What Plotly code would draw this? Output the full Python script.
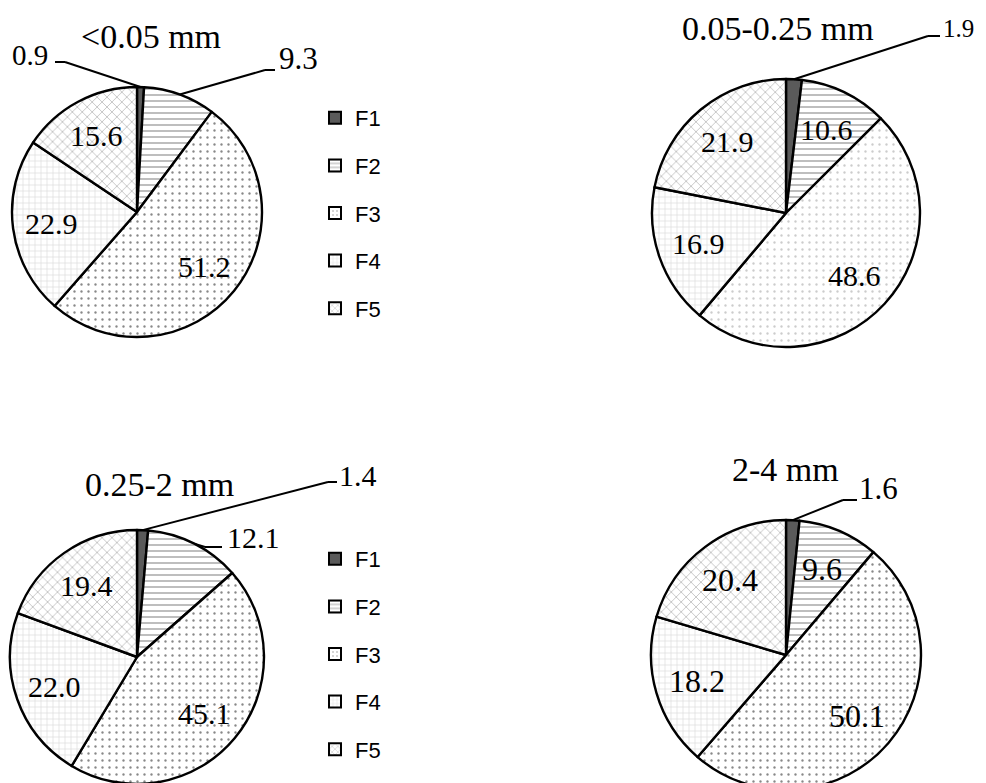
import math
import plotly.graph_objects as go

# page renders the figure with an 8px body margin; work in screen pixels
OFF = 8
FW, FH = 970, 800

# ---------------- data ----------------
fractions = ["F1", "F2", "F3", "F4", "F5"]
titles = ["<0.05 mm", "0.05-0.25 mm", "0.25-2 mm", "2-4 mm"]
v_lt005 = [0.9, 9.3, 51.2, 22.9, 15.6]
v_005_025 = [1.9, 10.6, 48.6, 16.9, 21.9]
v_025_2 = [1.4, 12.1, 45.1, 22.0, 19.4]
v_2_4 = [1.6, 9.6, 50.1, 18.2, 20.4]
series = [v_lt005, v_005_025, v_025_2, v_2_4]

# ---------------- layout / style ----------------
# screen-pixel centre and radius of each pie
geom = [(137, 212, 125), (786, 213, 134), (137, 657, 127), (786, 655, 135)]
title_pos = [(151, 36), (778, 28), (159, 484), (785, 469)]
label_size = [30, 30, 30, 32]

# callouts: pie index -> {slice index: (elbow_x, elbow_y, end_x, text_x, text_y, anchor, size)}
callouts = {
    0: {0: (65, 62, 55, 50, 55, "right", 29), 1: (265, 70, 275, 277, 58, "left", 31)},
    1: {0: (928, 36, 940, 941, 28, "left", 25)},
    2: {0: (328, 482, 337, 337, 475, "left", 30), 1: (205, 547, 222, 225, 537, "left", 30)},
    3: {0: (843, 500, 857, 857, 488, "left", 31)},
}

fill = {
    "F1": dict(color="#5a5a5a"),
    "F2": dict(color="white", pattern=dict(shape="-", fgcolor="#222", bgcolor="white", size=6, solidity=0.2)),
    "F3": dict(color="white", pattern=dict(shape=".", fgcolor="#111", bgcolor="white", size=7, solidity=0.09)),
    "F4": dict(color="white", pattern=dict(shape="+", fgcolor="#999999", bgcolor="white", size=6, solidity=0.15)),
    "F5": dict(color="white", pattern=dict(shape="x", fgcolor="#333", bgcolor="white", size=7, solidity=0.15)),
}


def px(x):
    return (x - OFF) / FW


def py(y):
    return 1 - (y - OFF) / FH


fig = go.Figure()
annotations = []
shapes = []

for k, vals in enumerate(series):
    cx, cy, r = geom[k]
    bottom = OFF + FH
    if cy + r > bottom:
        top = cy - r
        r = (bottom - top) / 2
        cy = top + r
    colors = [fill[f]["color"] for f in fractions]
    shp = [fill[f].get("pattern", {}).get("shape", "") for f in fractions]
    fg = [fill[f].get("pattern", {}).get("fgcolor", "black") for f in fractions]
    if k == 1:
        fg[2] = "#999999"
    sz = [fill[f].get("pattern", {}).get("size", 8) for f in fractions]
    sol = [fill[f].get("pattern", {}).get("solidity", 0.3) for f in fractions]
    fig.add_trace(go.Pie(
        labels=fractions, values=vals, sort=False, direction="clockwise", rotation=0,
        textinfo="none", hoverinfo="label+value", showlegend=False,
        domain=dict(x=[max(0, px(cx - r)), min(1, px(cx + r))],
                    y=[max(0, py(cy + r)), min(1, py(cy - r))]),
        marker=dict(colors=colors, line=dict(color="black", width=2.4),
                    pattern=dict(shape=shp, fgcolor=fg, bgcolor="white", size=sz, solidity=sol,
                                 fillmode="overlay")),
    ))
    total = sum(vals)
    cum = 0
    for i, v in enumerate(vals):
        a = math.radians((cum + v / 2) / total * 360)
        cum += v
        if i in callouts.get(k, {}):
            ex, ey, endx, tx, ty, anc, fs = callouts[k][i]
            sx, sy = cx + r * math.sin(a), cy - r * math.cos(a)
            shapes.append(dict(type="line", xref="paper", yref="paper", x0=px(sx), y0=py(sy),
                               x1=px(ex), y1=py(ey), line=dict(color="black", width=2)))
            shapes.append(dict(type="line", xref="paper", yref="paper", x0=px(ex), y0=py(ey),
                               x1=px(endx), y1=py(ey), line=dict(color="black", width=2)))
            annotations.append(dict(x=px(tx), y=py(ty), xref="paper", yref="paper", text=f"{v:.1f}",
                                    showarrow=False, xanchor=anc, yanchor="middle",
                                    font=dict(family="Liberation Serif", size=fs, color="black")))
        else:
            rf = 0.69
            lx, ly = cx + rf * r * math.sin(a), cy - rf * r * math.cos(a)
            annotations.append(dict(x=px(lx), y=py(ly), xref="paper", yref="paper", text=f"{v:.1f}",
                                    showarrow=False, xanchor="center", yanchor="middle",
                                    font=dict(family="Liberation Serif", size=label_size[k], color="black")))
    tx, ty = title_pos[k]
    annotations.append(dict(x=px(tx), y=py(ty), xref="paper", yref="paper", text=titles[k],
                            showarrow=False, xanchor="center", yanchor="middle",
                            font=dict(family="Liberation Serif", size=34, color="black")))

# legend entries (two identical legends)
for lg in ["legend", "legend2"]:
    for f in fractions:
        m = dict(color=fill[f]["color"], line=dict(color="black", width=2))
        if "pattern" in fill[f]:
            p = dict(fill[f]["pattern"])
            p["size"] = 5
            m["pattern"] = p
        fig.add_trace(go.Bar(x=[None], y=[None], name=f, marker=m, legend=lg,
                             legendgroup=lg + f, showlegend=True, hoverinfo="skip"))

leg_common = dict(xanchor="left", yanchor="top", bgcolor="rgba(0,0,0,0)", tracegroupgap=16,
                  font=dict(family="Liberation Sans", size=22, color="black"), itemclick=False,
                  itemdoubleclick=False)

fig.update_layout(
    width=FW, height=FH, margin=dict(l=0, r=0, t=0, b=0),
    paper_bgcolor="white", plot_bgcolor="white",
    xaxis=dict(visible=False, range=[0, 1]), yaxis=dict(visible=False, range=[0, 1]),
    legend=dict(x=px(315), y=py(97), **leg_common),
    legend2=dict(x=px(315), y=py(538), **leg_common),
    annotations=annotations, shapes=shapes,
)

fig.write_html("out.html")
